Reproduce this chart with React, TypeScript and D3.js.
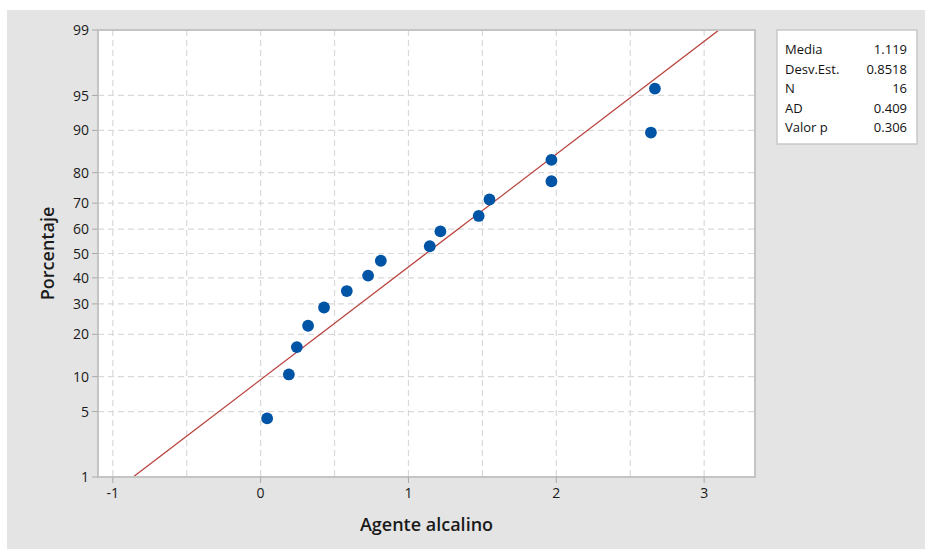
import React from "react";
import * as d3 from "d3";

const dataValues = [0.044, 0.191, 0.245, 0.321, 0.429, 0.583, 0.727, 0.813, 1.144, 1.216, 1.475, 1.548, 1.967, 1.967, 2.64, 2.667];
const dataPercents = [4.3, 10.4, 16.5, 22.6, 28.7, 34.8, 40.9, 47.0, 53.0, 59.1, 65.2, 71.3, 77.4, 83.5, 89.6, 95.7];
const yTicks = [1, 5, 10, 20, 30, 40, 50, 60, 70, 80, 90, 95, 99];
const xTicks = [-1, 0, 1, 2, 3];
const xGrid = [-1, -0.5, 0, 0.5, 1, 1.5, 2, 2.5, 3];
const statLabels = ["Media", "Desv.Est.", "N", "AD", "Valor p"];
const statValues = ["1.119", "0.8518", "16", "0.409", "0.306"];
const mean = 1.119;
const stdev = 0.8518;

function probit(p: number): number {
  const a = [-39.69683028665376, 220.9460984245205, -275.9285104469687, 138.357751867269, -30.66479806614716, 2.506628277459239];
  const b = [-54.47609879822406, 161.5858368580409, -155.6989798598866, 66.80131188771972, -13.28068155288572];
  const c = [-0.007784894002430293, -0.3223964580411365, -2.400758277161838, -2.549732539343734, 4.374664141464968, 2.938163982698783];
  const d = [0.007784695709041462, 0.3224671290700398, 2.445134137142996, 3.754408661907416];
  const plow = 0.02425;
  const phigh = 1 - plow;
  let q: number, r: number;
  if (p < plow) {
    q = Math.sqrt(-2 * Math.log(p));
    return (((((c[0] * q + c[1]) * q + c[2]) * q + c[3]) * q + c[4]) * q + c[5]) / ((((d[0] * q + d[1]) * q + d[2]) * q + d[3]) * q + 1);
  } else if (p <= phigh) {
    q = p - 0.5;
    r = q * q;
    return ((((((a[0] * r + a[1]) * r + a[2]) * r + a[3]) * r + a[4]) * r + a[5]) * q) / (((((b[0] * r + b[1]) * r + b[2]) * r + b[3]) * r + b[4]) * r + 1);
  } else {
    q = Math.sqrt(-2 * Math.log(1 - p));
    return -(((((c[0] * q + c[1]) * q + c[2]) * q + c[3]) * q + c[4]) * q + c[5]) / ((((d[0] * q + d[1]) * q + d[2]) * q + d[3]) * q + 1);
  }
}

const W = 925;
const H = 549;
const left = 98;
const right = 755;
const top = 30;
const bottom = 477;
const FONT = "'Open Sans', 'Noto Sans', sans-serif";

export default function App() {
  const x = d3.scaleLinear().domain([-1.1, 3.344]).range([left, right]);
  const zMax = probit(0.99);
  const y = d3.scaleLinear().domain([-zMax, zMax]).range([bottom, top]);

  const linePts: [number, number][] = [
    [mean + stdev * -zMax, -zMax],
    [mean + stdev * zMax, zMax],
  ];
  const lineGen = d3.line<[number, number]>().x((d) => x(d[0])).y((d) => y(d[1]));

  return (
    <svg width={W} height={H} style={{ position: "absolute", left: 0, top: 0 }} fontFamily={FONT}>
      <rect x={0} y={0} width={W} height={H} fill="#ffffff" />
      <rect x={7} y={10} width={W - 7} height={H - 10} fill="#e4e4e4" />
      <rect x={left} y={top} width={right - left} height={bottom - top} fill="#ffffff" />
      <defs>
        <clipPath id="plotclip">
          <rect x={left} y={top} width={right - left} height={bottom - top} />
        </clipPath>
      </defs>
      {xGrid.map((g) => (
        <line key={"xg" + g} x1={x(g)} x2={x(g)} y1={top} y2={bottom} stroke="#d9d9d9" strokeWidth={1.2} strokeDasharray="6,4" />
      ))}
      {yTicks.map((t) => (
        <line key={"yg" + t} x1={left} x2={right} y1={y(probit(t / 100))} y2={y(probit(t / 100))} stroke="#d9d9d9" strokeWidth={1.2} strokeDasharray="6,4" />
      ))}
      <path d={lineGen(linePts) || ""} stroke="#b8413c" strokeWidth={1.3} fill="none" clipPath="url(#plotclip)" />
      {dataValues.map((v, i) => (
        <circle key={"p" + i} cx={x(v)} cy={y(probit(dataPercents[i] / 100))} r={5.9} fill="#0054a6" />
      ))}
      <rect x={left} y={top} width={right - left} height={bottom - top} fill="none" stroke="#c4c4c4" strokeWidth={2} />
      {yTicks.map((t) => (
        <g key={"yt" + t}>
          <line x1={left - 6} x2={left} y1={y(probit(t / 100))} y2={y(probit(t / 100))} stroke="#aaaaaa" strokeWidth={1} />
          <text x={left - 9} y={y(probit(t / 100))} dy="0.36em" textAnchor="end" fontSize={14} fill="#1a1a1a">
            {t}
          </text>
        </g>
      ))}
      {xTicks.map((t) => (
        <g key={"xt" + t}>
          <line x1={x(t)} x2={x(t)} y1={bottom} y2={bottom + 6} stroke="#aaaaaa" strokeWidth={1} />
          <text x={x(t)} y={bottom + 21} textAnchor="middle" fontSize={14} fill="#1a1a1a">
            {t}
          </text>
        </g>
      ))}
      <text x={(left + right) / 2} y={531} textAnchor="middle" fontSize={18} fontWeight={600} fill="#1a1a1a">
        Agente alcalino
      </text>
      <text transform={`translate(54, ${(top + bottom) / 2}) rotate(-90)`} textAnchor="middle" fontSize={18} fontWeight={600} fill="#1a1a1a">
        Porcentaje
      </text>
      <rect x={777} y={30} width={140} height={114} fill="#ffffff" stroke="#c8c8c8" strokeWidth={1.5} />
      {statLabels.map((s, i) => (
        <g key={"s" + i}>
          <text x={785} y={49.5 + i * 19.5} dy="0.36em" fontSize={13} fill="#111">
            {s}
          </text>
          <text x={907} y={49.5 + i * 19.5} dy="0.36em" textAnchor="end" fontSize={13} fill="#111">
            {statValues[i]}
          </text>
        </g>
      ))}
    </svg>
  );
}
